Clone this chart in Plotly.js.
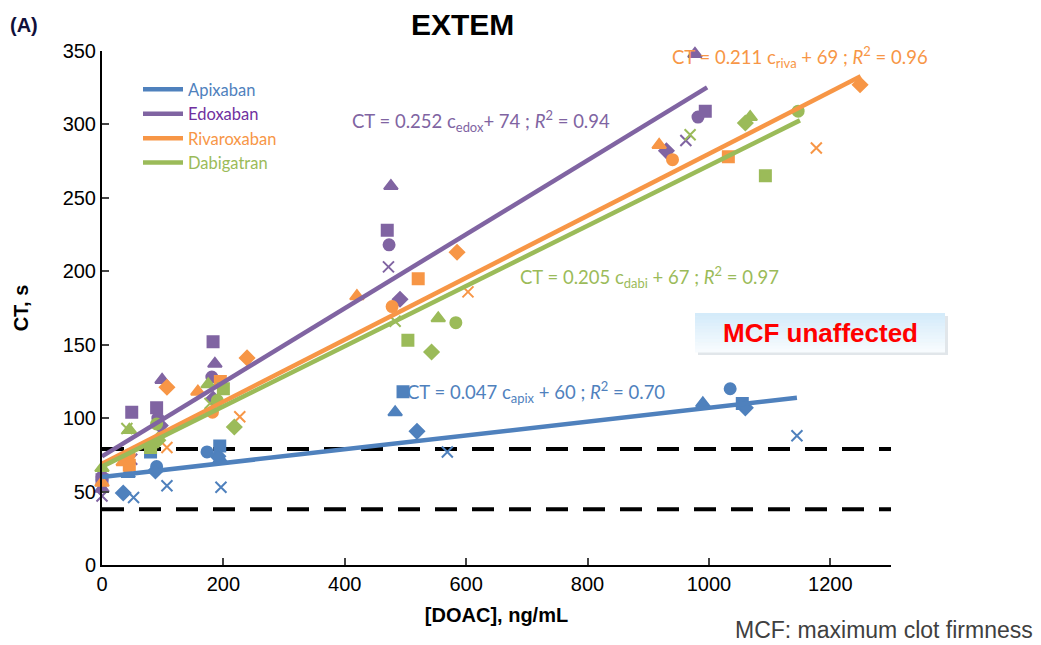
<!DOCTYPE html>
<html>
<head>
<meta charset="utf-8">
<script src="https://cdn.plot.ly/plotly-3.0.1.min.js"></script>
<style>html,body{margin:0;padding:0;background:#fff;}#chart{width:1041px;height:645px;}</style>
</head>
<body>
<div id="chart"></div>
<script>
// ---------- data ----------
const drugs = ['Apixaban', 'Edoxaban', 'Rivaroxaban', 'Dabigatran'];

// donor codes: A, B, C, D, E (each plotted with its own marker shape)
const apixConc  = [0, 90, 173, 1035,  80, 194, 496, 1055,  43, 195, 483, 990,  35, 88, 191, 519, 1060,  52, 107, 196, 569, 1145];
const apixCT    = [58, 67, 77, 120,   77, 81, 118, 110,   62, 72, 104, 110,   49, 64, 74, 91, 107,   46, 54, 53, 77, 88];
const apixDonor = ['A','A','A','A', 'B','B','B','B', 'C','C','C','C', 'D','D','D','D','D', 'E','E','E','E','E'];

const edoxConc  = [0, 92, 181, 473, 982,  0, 49, 90, 183, 470, 994,  0, 99, 186, 476, 977,  96, 183, 491, 930,  0, 49, 472, 962];
const edoxCT    = [60, 100, 128, 218, 305,  58, 104, 107, 152, 228, 309,  52, 126, 137, 258, 348,  95, 113, 181, 282,  47, 72, 203, 289];
const edoxDonor = ['A','A','A','A','A', 'B','B','B','B','B','B', 'C','C','C','C','C', 'D','D','D','D', 'E','E','E','E'];

const rivaConc  = [45, 182, 478, 940,  45, 195, 521, 1032,  0, 35, 158, 420, 918,  107, 239, 585, 1249,  107, 227, 603, 1177];
const rivaCT    = [75, 104, 176, 276,  68, 125, 195, 278,  56, 70, 118, 183, 286,  121, 141, 213, 327,  80, 101, 186, 284];
const rivaDonor = ['A','A','A','A', 'B','B','B','B', 'C','C','C','C','C', 'D','D','D','D', 'E','E','E','E'];

const dabiConc  = [90, 190, 583, 1147,  80, 200, 504, 1093,  0, 45, 175, 554, 1068,  92, 218, 543, 1060,  41, 178, 483, 969];
const dabiCT    = [96, 112, 165, 309,  80, 120, 153, 265,  66, 92, 123, 168, 305,  85, 94, 145, 301,  93, 110, 166, 293];
const dabiDonor = ['A','A','A','A', 'B','B','B','B', 'C','C','C','C','C', 'D','D','D','D', 'E','E','E','E'];

// linear fits shown on the chart: CT = slope * c + intercept
const fitSlope     = [0.047, 0.252, 0.211, 0.205];
const fitIntercept = [60, 74, 69, 67];
const fitR2        = ['0.70', '0.94', '0.96', '0.97'];
const fitSub       = ['apix', 'edox', 'riva', 'dabi'];
const fitMaxConc   = [1145, 997, 1250, 1150];

// EXTEM CT reference range, s
const refLow = 38;
const refHigh = 79;

const xTicks = [0, 200, 400, 600, 800, 1000, 1200];
const yTicks = [0, 50, 100, 150, 200, 250, 300, 350];

// ---------- styling ----------
const colors = ['#4F81BD', '#8064A2', '#F79646', '#9BBB59'];
const legendTextColors = ['#4F81BD', '#7030A0', '#F79646', '#9BBB59'];
const symbolOf = {A: 'circle', B: 'square', C: 'triangle-up', D: 'diamond', E: 'x-thin-open'};
const W = 1041, H = 645;
const plotL = 102, plotR = 150, plotT = 51, plotB = 80;
const plotW = W - plotL - plotR, plotH = H - plotT - plotB;
const px2x = p => (p - plotL) / plotW;
const py2y = p => 1 - (p - plotT) / plotH;
const arial = 'Liberation Sans, Arial, sans-serif';
const eqFont = 'Lato, "Open Sans", sans-serif';

const pointSets = [
  [apixConc, apixCT, apixDonor],
  [edoxConc, edoxCT, edoxDonor],
  [rivaConc, rivaCT, rivaDonor],
  [dabiConc, dabiCT, dabiDonor]
];

const traces = [];

// reference range lines
[refLow, refHigh].forEach(v => {
  traces.push({
    x: [0, 1300], y: [v, v], mode: 'lines', showlegend: false, hoverinfo: 'skip',
    line: {color: '#000', width: 4, dash: '22px,15px'}
  });
});

// data points
pointSets.forEach((set, i) => {
  const [cx, cy, donor] = set;
  traces.push({
    x: cx, y: cy, mode: 'markers', showlegend: false, hoverinfo: 'x+y',
    cliponaxis: false,
    marker: {symbol: donor.map(d => symbolOf[d]), size: donor.map(d => d === 'C' ? 12 : 11),
             color: colors[i], opacity: 1, line: {color: colors[i], width: 2}}
  });
});

// fit lines (legend entries)
drugs.forEach((name, i) => {
  traces.push({
    x: [0, fitMaxConc[i]],
    y: [fitIntercept[i], fitSlope[i] * fitMaxConc[i] + fitIntercept[i]],
    mode: 'lines',
    name: '<span style="color:' + legendTextColors[i] + '">' + name + '</span>',
    line: {color: colors[i], width: 4.5},
    hoverinfo: 'skip'
  });
});

function eqText(i) {
  const sep = i === 1 ? '' : ' ';
  return 'CT = ' + fitSlope[i].toFixed(3) + ' c<sub>' + fitSub[i] + '</sub>' + sep + '+ ' + fitIntercept[i] +
         ' ; <i>R</i><sup>2</sup> = ' + fitR2[i];
}
const eqPos = [[499, 118], [409, 302], [936, 346], [686, 196]];

const annotations = eqPos.map((p, i) => ({
  x: p[0], y: p[1], xref: 'x', yref: 'y', xanchor: 'left', yanchor: 'middle',
  text: eqText(i), showarrow: false,
  font: {family: eqFont, size: 18.5, color: colors[i]}
}));

annotations.push({
  x: px2x(462), y: py2y(25), xref: 'paper', yref: 'paper',
  text: '<b>EXTEM</b>', showarrow: false, xanchor: 'center', yanchor: 'middle',
  font: {family: arial, size: 30, color: '#000'}
});
annotations.push({
  x: px2x(8), y: py2y(25), xref: 'paper', yref: 'paper', xanchor: 'left', yanchor: 'middle',
  text: '<b>(A)</b>', showarrow: false,
  font: {family: arial, size: 20, color: '#10103a'}
});
annotations.push({
  x: px2x(1034), y: py2y(630), xref: 'paper', yref: 'paper', xanchor: 'right', yanchor: 'middle',
  text: 'MCF: maximum clot firmness', showarrow: false, borderpad: 0,
  font: {family: arial, size: 23, color: '#404040'}
});

const shapes = [];
// MCF box with a soft vertical gradient
const boxL = 695, boxR = 945, boxT = 313, boxB = 352;
shapes.push({type: 'rect', xref: 'paper', yref: 'paper', layer: 'above',
  x0: px2x(boxL + 3), x1: px2x(boxR + 3), y0: py2y(boxB + 3), y1: py2y(boxT + 3),
  line: {width: 0}, fillcolor: 'rgba(120,140,160,0.22)'});
const strips = 12;
const c0 = [212, 235, 250], c1 = [247, 251, 254];
for (let s = 0; s < strips; s++) {
  const t = s / (strips - 1);
  const col = 'rgb(' + c0.map((c, k) => Math.round(c + (c1[k] - c) * t)).join(',') + ')';
  const yTop = boxT + (boxB - boxT) * s / strips;
  const yBot = boxT + (boxB - boxT) * (s + 1) / strips + 0.5;
  shapes.push({type: 'rect', xref: 'paper', yref: 'paper', layer: 'above',
    x0: px2x(boxL), x1: px2x(boxR), y0: py2y(yBot), y1: py2y(yTop),
    line: {width: 0}, fillcolor: col});
}
annotations.push({
  x: px2x((boxL + boxR) / 2), y: py2y((boxT + boxB) / 2), xref: 'paper', yref: 'paper',
  xanchor: 'center', yanchor: 'middle', text: '<b>MCF unaffected</b>', showarrow: false,
  font: {family: arial, size: 26, color: '#FF0000'}
});

const layout = {
  width: W, height: H,
  paper_bgcolor: '#fff', plot_bgcolor: '#fff',
  margin: {l: plotL, r: plotR, t: plotT, b: plotB, pad: 0},
  showlegend: true,
  legend: {
    x: px2x(138), y: py2y(72), xanchor: 'left', yanchor: 'top',
    bgcolor: 'rgba(0,0,0,0)', borderwidth: 0,
    font: {family: eqFont, size: 16.5},
    itemwidth: 40, tracegroupgap: 0
  },
  xaxis: {
    range: [0, 1300], tickvals: xTicks, ticks: 'inside', ticklen: 7, tickwidth: 2,
    showline: true, linewidth: 2, linecolor: '#000', showgrid: false, zeroline: false,
    tickfont: {family: arial, size: 20, color: '#000'},
    title: {text: '<b>[DOAC], ng/mL</b>', standoff: 14, font: {family: arial, size: 20, color: '#000'}}
  },
  yaxis: {
    range: [0, 350], tickvals: yTicks, ticks: 'inside', ticklen: 7, tickwidth: 2,
    showline: true, linewidth: 2, linecolor: '#000', showgrid: false, zeroline: false,
    tickfont: {family: arial, size: 20, color: '#000'},
    title: {text: '<b>CT, s</b>', standoff: 29, font: {family: arial, size: 20, color: '#000'}}
  },
  shapes: shapes,
  annotations: annotations
};

Plotly.newPlot('chart', traces, layout, {displayModeBar: false, staticPlot: true});
</script>
</body>
</html>
